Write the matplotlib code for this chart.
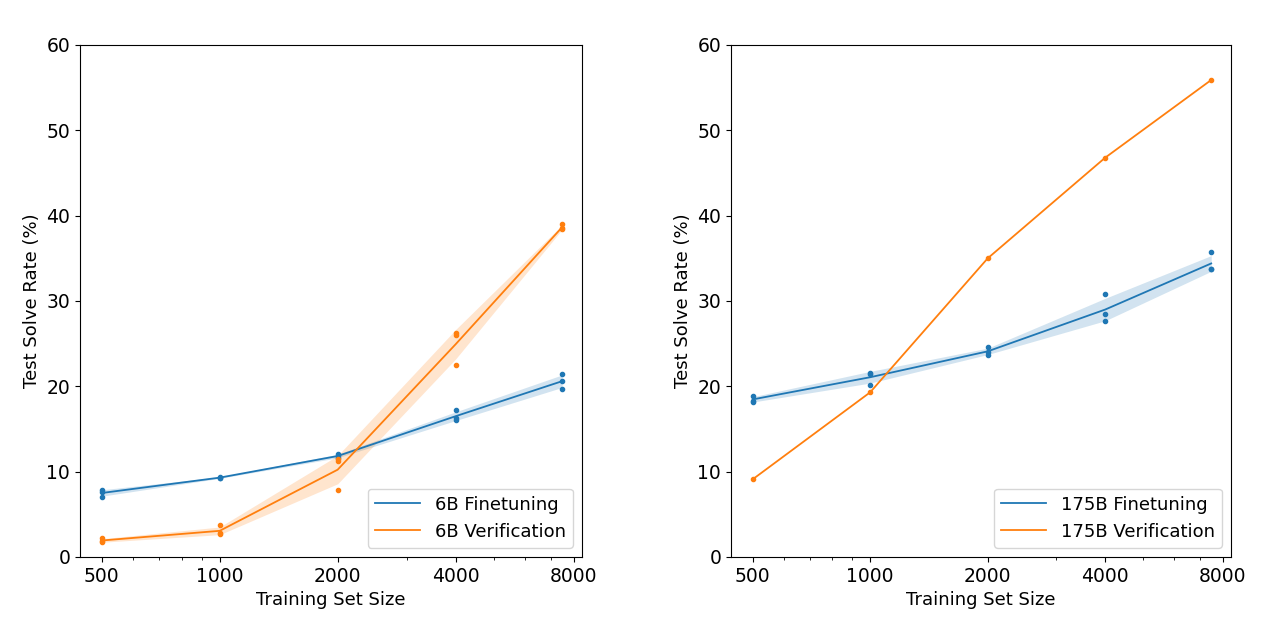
import numpy as np
import matplotlib
matplotlib.use("Agg")
import matplotlib.pyplot as plt
from matplotlib.ticker import FixedLocator, ScalarFormatter, NullFormatter

sizes = [500, 1000, 2000, 4000, 7473]
tick_vals = [500, 1000, 2000, 4000, 8000]

# per-seed test solve rates (%)
ft_6b = [[7.9, 7.6, 7.0], [9.4, 9.3, 9.2], [12.1, 11.8, 11.6],
         [17.2, 16.3, 16.0], [21.5, 20.6, 19.7]]
ver_6b = [[2.2, 1.9, 1.7], [3.7, 2.8, 2.7], [11.5, 11.3, 7.9],
          [26.3, 26.0, 22.5], [39.0, 38.5, 38.4]]
ft_175b = [[18.9, 18.3, 18.2], [21.6, 21.5, 20.1], [24.6, 24.0, 23.7],
           [30.8, 28.5, 27.7], [35.7, 33.8, 33.7]]
ver_175b = [[9.1], [19.3], [35.0], [46.8], [55.9]]

blue = '#1f77b4'
orange = '#ff7f0e'

fig = plt.figure(figsize=(12.77, 6.25), dpi=100)
ax1 = fig.add_axes([0.0626, 0.1088, 0.3931, 0.8192])
ax2 = fig.add_axes([0.5724, 0.1088, 0.3916, 0.8192])


def draw(ax, runs, color, label):
    means = np.array([np.mean(r) for r in runs])
    stds = np.array([np.std(r) for r in runs])
    ax.plot(sizes, means, color=color, lw=1.3, label=label)
    ax.fill_between(sizes, means - stds, means + stds, color=color, alpha=0.2, lw=0)
    for s, r in zip(sizes, runs):
        ax.scatter([s] * len(r), r, color=color, s=9, zorder=3)


draw(ax1, ft_6b, blue, '6B Finetuning')
draw(ax1, ver_6b, orange, '6B Verification')
draw(ax2, ft_175b, blue, '175B Finetuning')
draw(ax2, ver_175b, orange, '175B Verification')

for ax in (ax1, ax2):
    ax.set_xscale('log')
    ax.set_xlim(440, 8400)
    ax.set_ylim(0, 60)
    ax.xaxis.set_major_locator(FixedLocator(tick_vals))
    ax.xaxis.set_major_formatter(ScalarFormatter())
    ax.xaxis.set_minor_formatter(NullFormatter())
    ax.tick_params(labelsize=13.5)
    ax.set_xlabel('Training Set Size', fontsize=13)
    ax.set_ylabel('Test Solve Rate (%)', fontsize=13)
    ax.legend(loc='lower right', fontsize=13, handlelength=2.5)

fig.savefig('out.png', dpi=100)
